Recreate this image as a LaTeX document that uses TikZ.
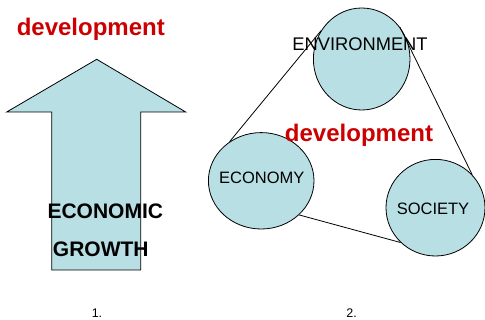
\documentclass[tikz,border=0pt]{standalone}
\usepackage{fontspec}
\setmainfont{Liberation Sans}
\usetikzlibrary{shapes.geometric}
\definecolor{cfill}{HTML}{B8DFE3}
\definecolor{cred}{HTML}{CC0000}
\begin{document}
\begin{tikzpicture}[x=1pt,y=-1pt,
  circ/.style={ellipse,draw=black,line width=0.8pt,fill=cfill,inner sep=0pt},
  devtxt/.style={anchor=base,inner sep=0pt,text=cred,font=\fontsize{24}{28}\selectfont\bfseries},
  bigtxt/.style={anchor=base,inner sep=0pt,font=\fontsize{21}{25}\selectfont\bfseries},
  lab/.style={anchor=base,inner sep=0pt,font=\fontsize{16.5}{19}\selectfont},
  num/.style={anchor=base,inner sep=0pt,font=\fontsize{12.5}{15}\selectfont},
  link/.style={line width=0.8pt}]
\useasboundingbox (0,0) rectangle (485,320);
% arrow
\draw[line width=0.8pt,fill=cfill] (96.7,59.3) -- (185.7,112) -- (140.7,112) -- (140.7,270)
  -- (51.7,270) -- (51.7,112) -- (6.7,112) -- cycle;
\node[devtxt] (dev1) at (90.8,35.7) {development};
\node[bigtxt] (eco1) at (105.3,218.3) {ECONOMIC};
\node[bigtxt] (gro1) at (100.8,256.7) {GROWTH};
\node[num] (n1) at (97,318) {1.};
% circles
\node[circ,minimum width=96.6pt,minimum height=102pt] (env) at (361.7,59) {};
\node[circ,minimum width=105.6pt,minimum height=96.4pt] (eco) at (261.2,180.8) {};
\node[circ,minimum width=99pt,minimum height=96.6pt] (soc) at (435.5,207.7) {};
\draw[link] (eco.129.6) -- (env.145.8);
\draw[link] (env.40.1) -- (soc.42.8);
\draw[link] (eco.-42.7) -- (soc.225.2);
\node[lab,font=\fontsize{18.3}{21}\selectfont] (envt) at (360,50.7) {ENVIRONMENT};
\node[lab] (ecot) at (261.8,184) {ECONOMY};
\node[lab] (soct) at (433,215) {SOCIETY};
\node[devtxt] (dev2) at (359,141.7) {development};
\node[num] (n2) at (351.7,318) {2.};
\end{tikzpicture}
\end{document}
